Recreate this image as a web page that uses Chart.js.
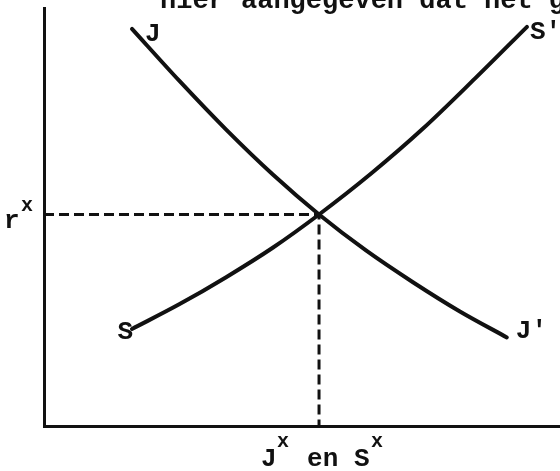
<!DOCTYPE html>
<html>
<head>
<meta charset="utf-8">
<script src="https://cdn.jsdelivr.net/npm/chart.js@4.4.1/dist/chart.umd.min.js"></script>
<style>
  html, body { margin: 0; padding: 0; background: #fff; }
  #wrap { width: 560px; height: 471px; position: relative; }
</style>
</head>
<body>
<div id="wrap"><canvas id="myChart"></canvas></div>
<script>
// investment curve J -> J' (falls with the interest rate)
var jX = [17.05, 26.2, 35.3, 44.4, 53.3, 62.4, 71.5, 80.6, 89.7];
var jY = [95.0, 82.6, 70.9, 60.1, 50.6, 42.0, 34.4, 27.4, 21.2];
// savings curve S -> S' (rises with the interest rate)
var sX = [17.05, 26.2, 35.3, 44.4, 53.3, 63.4, 73.4, 83.5, 93.6];
var sY = [23.2, 29.1, 35.6, 42.7, 50.6, 60.4, 71.1, 83.1, 95.5];
// equilibrium
var xStar = 53.3;
var rStar = 50.6;
var headerText = 'hier aangegeven dat het g';

var ink = '#111';
var mono = '"Liberation Mono", "DejaVu Sans Mono", monospace';

function toPoints(xs, ys) {
  return xs.map(function(x, i) { return {x: x, y: ys[i]}; });
}

var labelsPlugin = {
  id: 'labels',
  afterDatasetsDraw: function(chart) {
    var c = chart.ctx;
    var xs = chart.scales.x, ys = chart.scales.y;
    var area = chart.chartArea;
    c.save();
    c.fillStyle = ink;
    c.textBaseline = 'alphabetic';

    // header line, cut off at the top like the scan
    c.font = 'bold 27px ' + mono;
    c.textAlign = 'left';
    c.fillText(headerText, 160, 8);

    c.font = 'bold 26px ' + mono;
    // J at start of the J curve
    var jx0 = xs.getPixelForValue(jX[0]), jy0 = ys.getPixelForValue(jY[0]);
    c.fillText('J', jx0 + 13, jy0 + 12);
    // J' at the end
    var jx1 = xs.getPixelForValue(jX[jX.length - 1]), jy1 = ys.getPixelForValue(jY[jY.length - 1]);
    c.fillText("J'", jx1 + 9, jy1 + 1);
    // S at start of the S curve
    var sx0 = xs.getPixelForValue(sX[0]), sy0 = ys.getPixelForValue(sY[0]);
    c.textAlign = 'right';
    c.fillText('S', sx0 + 1, sy0 + 10);
    // S' at the end
    c.textAlign = 'left';
    var sx1 = xs.getPixelForValue(sX[sX.length - 1]), sy1 = ys.getPixelForValue(sY[sY.length - 1]);
    c.fillText("S'", sx1 + 3, sy1 + 12);

    // r* on the vertical axis
    var ry = ys.getPixelForValue(rStar);
    c.fillText('r', area.left - 40, ry + 14);
    c.font = 'bold 20px ' + mono;
    c.fillText('x', area.left - 23, ry - 3);

    // J* en S* under the horizontal axis
    var qx = xs.getPixelForValue(xStar);
    var base = area.bottom + 40;
    c.font = 'bold 26px ' + mono;
    c.fillText('J', qx - 58, base);
    c.fillText('en', qx - 12, base);
    c.fillText('S', qx + 35, base);
    c.font = 'bold 20px ' + mono;
    c.fillText('x', qx - 42, base - 19);
    c.fillText('x', qx + 52, base - 19);
    c.restore();
  }
};

var ctx = document.getElementById('myChart').getContext('2d');
var config = {
  type: 'scatter',
  data: {
    datasets: [
      {
        label: 'J',
        data: toPoints(jX, jY),
        showLine: true,
        cubicInterpolationMode: 'monotone',
        borderColor: ink,
        borderWidth: 4,
        borderCapStyle: 'round',
        pointRadius: 0
      },
      {
        label: 'S',
        data: toPoints(sX, sY),
        showLine: true,
        cubicInterpolationMode: 'monotone',
        borderColor: ink,
        borderWidth: 4,
        borderCapStyle: 'round',
        pointRadius: 0
      },
      {
        label: 'evenwicht',
        data: [{x: 0, y: rStar}, {x: xStar, y: rStar}, {x: xStar, y: 0}],
        showLine: true,
        borderColor: ink,
        borderWidth: 3,
        borderDash: [10, 5],
        pointRadius: 0
      }
    ]
  },
  options: {
    responsive: true,
    maintainAspectRatio: false,
    animation: false,
    layout: { padding: { left: 36, right: 0, top: 8, bottom: 37 } },
    plugins: {
      legend: { display: false },
      tooltip: { enabled: false }
    },
    scales: {
      x: {
        type: 'linear',
        min: 0,
        max: 100,
        grid: { display: false },
        ticks: { display: false },
        border: { display: true, color: ink, width: 3 }
      },
      y: {
        type: 'linear',
        min: 0,
        max: 100,
        grid: { display: false },
        ticks: { display: false },
        border: { display: true, color: ink, width: 3 }
      }
    }
  },
  plugins: [labelsPlugin]
};
var myChart = new Chart(ctx, config);
</script>
</body>
</html>
